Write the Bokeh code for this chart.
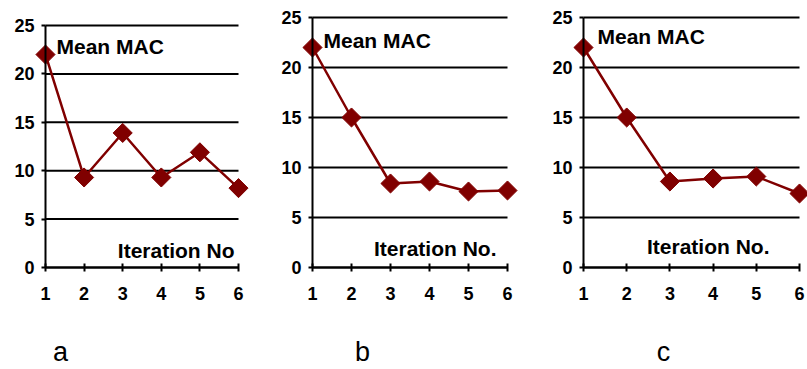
import math
from bokeh.plotting import figure
from bokeh.layouts import row
from bokeh.models import Range1d, FixedTicker, Label
from bokeh.core.properties import value
from bokeh.embed import file_html
from bokeh.resources import INLINE

# ---- data ----
iterations = [1, 2, 3, 4, 5, 6]
iteration_labels = ["1", "2", "3", "4", "5", "6"]
mac_a = [22.0, 9.3, 13.9, 9.3, 11.9, 8.2]
mac_b = [22.0, 15.0, 8.4, 8.6, 7.6, 7.7]
mac_c = [22.0, 15.0, 8.6, 8.9, 9.1, 7.4]
y_ticks = [0, 5, 10, 15, 20, 25]
y_tick_labels = ["0", "5", "10", "15", "20", "25"]
panel_letters = ["a", "b", "c"]
y_label = "Mean MAC"
x_labels = ["Iteration No", "Iteration No.", "Iteration No."]

FONT = "Liberation Sans"
DARK_RED = "#800000"
H = 369
ZERO_PX = 267      # pixel row of y = 0
FRAME_LEFT = 6
FRAME_TOP = 2
FRAME_BOTTOM_BORDER = 2


def make_panel(values, letter, xlab, fig_w, axis_px, six_px,
               frame_right_border, top_px, mean_pos, iter_pos, letter_dx):
    ppx = (six_px - axis_px) / (iterations[-1] - iterations[0])
    ppy = (ZERO_PX - top_px) / y_ticks[-1]
    frame_right = fig_w - frame_right_border
    frame_bottom = H - FRAME_BOTTOM_BORDER
    x0 = iterations[0] - (axis_px - FRAME_LEFT) / ppx
    x1 = iterations[-1] + (frame_right - six_px) / ppx
    y0 = -(frame_bottom - ZERO_PX) / ppy
    y1 = y_ticks[-1] + (top_px - FRAME_TOP) / ppy

    def dx(px):
        return iterations[0] + (px - axis_px) / ppx

    def dy(py):
        return (ZERO_PX - py) / ppy

    p = figure(width=fig_w, height=H, x_range=Range1d(x0, x1),
               y_range=Range1d(y0, y1), output_backend="svg",
               toolbar_location=None, min_border_left=FRAME_LEFT,
               min_border_right=frame_right_border, min_border_top=FRAME_TOP,
               min_border_bottom=FRAME_BOTTOM_BORDER, outline_line_color=None,
               background_fill_color="white", border_fill_color="white")
    p.xgrid.visible = False
    p.ygrid.visible = False

    # horizontal grid lines spanning iteration 1..6
    p.segment(x0=[iterations[0]] * len(y_ticks), x1=[iterations[-1]] * len(y_ticks),
              y0=y_ticks, y1=y_ticks, line_color="black", line_width=2)

    # x axis pinned at y = 0 (numbers drawn as text below it)
    xa = p.xaxis[0]
    xa.ticker = FixedTicker(ticks=iterations)
    xa.fixed_location = y_ticks[0]
    xa.bounds = (iterations[0], iterations[-1])
    xa.axis_line_width = 2
    xa.axis_line_color = "black"
    xa.major_tick_line_width = 2
    xa.major_tick_in = 4
    xa.major_tick_out = 4
    xa.minor_tick_line_color = None
    xa.major_label_standoff = 0
    xa.major_label_text_font_size = "0px"
    xa.major_label_text_color = None

    # y axis pinned at iteration 1 (numbers drawn as text beside it)
    ya = p.yaxis[0]
    ya.ticker = FixedTicker(ticks=y_ticks)
    ya.fixed_location = iterations[0]
    ya.bounds = (y_ticks[0], y_ticks[-1])
    ya.axis_line_width = 2
    ya.axis_line_color = "black"
    ya.major_tick_line_width = 2
    ya.major_tick_in = 0
    ya.major_tick_out = 4
    ya.minor_tick_line_color = None
    ya.major_label_standoff = 0
    ya.major_label_text_font_size = "0px"
    ya.major_label_text_color = None

    p.text(x=[iterations[0]] * len(y_ticks), y=y_ticks, text=y_tick_labels,
           x_offset=-11, text_align="right", text_baseline="middle",
           text_font=value(FONT), text_font_style="bold",
           text_font_size=value("18px"), text_color="black")
    p.text(x=iterations, y=[y_ticks[0]] * len(iterations), text=iteration_labels,
           y_offset=26, text_align="center", text_baseline="middle",
           text_font=value(FONT), text_font_style="bold",
           text_font_size=value("18px"), text_color="black")

    # series
    p.line(iterations, values, line_color=DARK_RED, line_width=2.5)
    p.scatter(iterations, values, marker="square", angle=math.pi / 4, size=13.5,
              fill_color=DARK_RED, line_color=DARK_RED)

    # in-plot texts
    p.add_layout(Label(x=dx(mean_pos[0]), y=dy(mean_pos[1]), text=y_label,
                       text_font=FONT, text_font_style="bold",
                       text_font_size="21px", text_align="left",
                       text_baseline="middle", text_color="black"))
    p.add_layout(Label(x=dx(iter_pos[0]), y=dy(iter_pos[1]), text=xlab,
                       text_font=FONT, text_font_style="bold",
                       text_font_size="21px", text_align="right",
                       text_baseline="middle", text_color="black"))

    # panel letter below the axis
    p.text(x=[iterations[0]], y=[y_ticks[0]], text=[letter],
           x_offset=letter_dx, y_offset=84, text_align="center",
           text_baseline="middle", text_font=value(FONT),
           text_font_style="normal", text_font_size=value("27px"),
           text_color="black")
    return p


pa = make_panel(mac_a, panel_letters[0], x_labels[0], 270, 45, 238, 10, 25,
                (56, 45.5), (234, 250), 15)
pb = make_panel(mac_b, panel_letters[1], x_labels[1], 270, 42, 237, 10, 17,
                (53, 39.5), (226, 248), 50)
pc = make_panel(mac_c, panel_letters[2], x_labels[2], 267, 43, 259, 0, 17,
                (57, 35.5), (229, 245.5), 80)

layout = row(pa, pb, pc)
open("out.html", "w").write(file_html(layout, INLINE))
